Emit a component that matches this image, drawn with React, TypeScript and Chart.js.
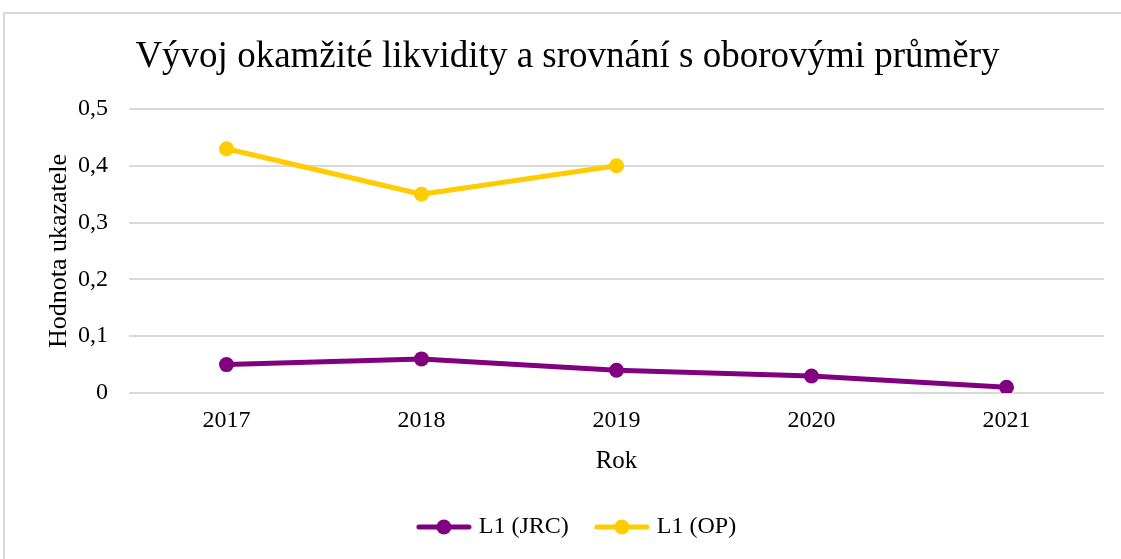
import React, { useEffect, useRef } from "react";
import { Chart, registerables } from "chart.js";

Chart.register(...registerables);

const categories = ["2017", "2018", "2019", "2020", "2021"];
const seriesJRC = [0.05, 0.06, 0.04, 0.03, 0.01];
const seriesOP: (number | null)[] = [0.43, 0.35, 0.4, null, null];
const yTickLabels = ["0", "0,1", "0,2", "0,3", "0,4", "0,5"];
const seriesNames = ["L1 (JRC)", "L1 (OP)"];
const seriesColors = ["#800080", "#FFCC00"];
const titleText = "Vývoj okamžité likvidity a srovnání s oborovými průměry";
const yTitle = "Hodnota ukazatele";
const xTitle = "Rok";

const FONT = "'Liberation Serif', 'Times New Roman', serif";

function makeLegendMarker(color: string): HTMLCanvasElement {
  const c = document.createElement("canvas");
  c.width = 56;
  c.height = 18;
  const ctx = c.getContext("2d")!;
  ctx.strokeStyle = color;
  ctx.lineWidth = 5;
  ctx.lineCap = "round";
  ctx.beginPath();
  ctx.moveTo(3, 9);
  ctx.lineTo(53, 9);
  ctx.stroke();
  ctx.fillStyle = color;
  ctx.beginPath();
  ctx.arc(28, 9, 7.5, 0, Math.PI * 2);
  ctx.fill();
  return c;
}

export default function App() {
  const ref = useRef<HTMLCanvasElement | null>(null);

  useEffect(() => {
    if (!ref.current) return;
    const markers = seriesColors.map(makeLegendMarker);
    const legendShift = {
      id: "legendShift",
      afterLayout(chart: any) {
        const lg = chart.legend;
        if (lg) {
          lg.left += 11;
          lg.right += 11;
        }
      },
    };
    const chart = new Chart(ref.current, {
      type: "line",
      data: {
        labels: categories,
        datasets: [
          {
            label: seriesNames[0],
            data: seriesJRC,
            borderColor: seriesColors[0],
            backgroundColor: seriesColors[0],
            borderWidth: 5,
            pointRadius: 7.5,
            pointHoverRadius: 7.5,
            pointBorderWidth: 0,
            borderCapStyle: "round",
            borderJoinStyle: "round",
            tension: 0,
          },
          {
            label: seriesNames[1],
            data: seriesOP,
            borderColor: seriesColors[1],
            backgroundColor: seriesColors[1],
            borderWidth: 5,
            pointRadius: 7.5,
            pointHoverRadius: 7.5,
            pointBorderWidth: 0,
            borderCapStyle: "round",
            borderJoinStyle: "round",
            tension: 0,
            spanGaps: false,
          },
        ],
      },
      options: {
        responsive: false,
        animation: false,
        devicePixelRatio: 1,
        layout: { padding: { left: 31, right: 17, top: 0, bottom: 10 } },
        plugins: {
          title: {
            display: true,
            text: titleText,
            color: "#000",
            font: { family: FONT, size: 37, weight: "normal" },
            padding: { top: 35, bottom: 29.6 },
          },
          legend: {
            display: true,
            position: "bottom",
            labels: {
              usePointStyle: true,
              pointStyleWidth: 46,
              padding: 30,
              color: "#000",
              font: { family: FONT, size: 24 },
              generateLabels: () =>
                seriesNames.map((n, i) => ({
                  text: n,
                  pointStyle: markers[i],
                  fillStyle: seriesColors[i],
                  strokeStyle: seriesColors[i],
                  lineWidth: 0,
                  datasetIndex: i,
                  hidden: false,
                  fontColor: "#000",
                })),
            },
          },
          tooltip: { enabled: false },
        },
        scales: {
          x: {
            offset: true,
            grid: { display: false, drawTicks: false },
            border: { display: false },
            ticks: {
              color: "#000",
              font: { family: FONT, size: 24 },
              padding: 13.6,
              maxRotation: 0,
            },
            title: {
              display: true,
              text: xTitle,
              color: "#000",
              font: { family: FONT, size: 25 },
              padding: { top: 0, bottom: 9 },
            },
            afterFit: (s: any) => {
              s.height = 92;
            },
          },
          y: {
            min: 0,
            max: 0.5,
            grid: { color: "#d9d9d9", lineWidth: 2, drawTicks: false },
            border: { display: false },
            ticks: {
              stepSize: 0.1,
              color: "#000",
              font: { family: FONT, size: 24 },
              padding: 21,
              callback: (_v: any, i: number) => yTickLabels[i],
            },
            title: {
              display: true,
              text: yTitle,
              color: "#000",
              font: { family: FONT, size: 26 },
              padding: { top: 12.4, bottom: 0 },
            },
            afterFit: (s: any) => {
              s.width = 98;
            },
          },
        },
      },
      plugins: [legendShift],
    } as any);
    return () => chart.destroy();
  }, []);

  return (
    <div
      style={{
        position: "fixed",
        left: 0,
        top: 0,
        width: 1121,
        height: 559,
        overflow: "hidden",
        background: "#fff",
      }}
    >
      <div
        style={{
          position: "absolute",
          left: 3,
          top: 12,
          width: 1200,
          height: 600,
          border: "2px solid #d9d9d9",
        }}
      />
      <canvas
        ref={ref}
        width={1121}
        height={559}
        style={{ position: "absolute", left: 0, top: 0, width: 1121, height: 559 }}
      />
    </div>
  );
}
